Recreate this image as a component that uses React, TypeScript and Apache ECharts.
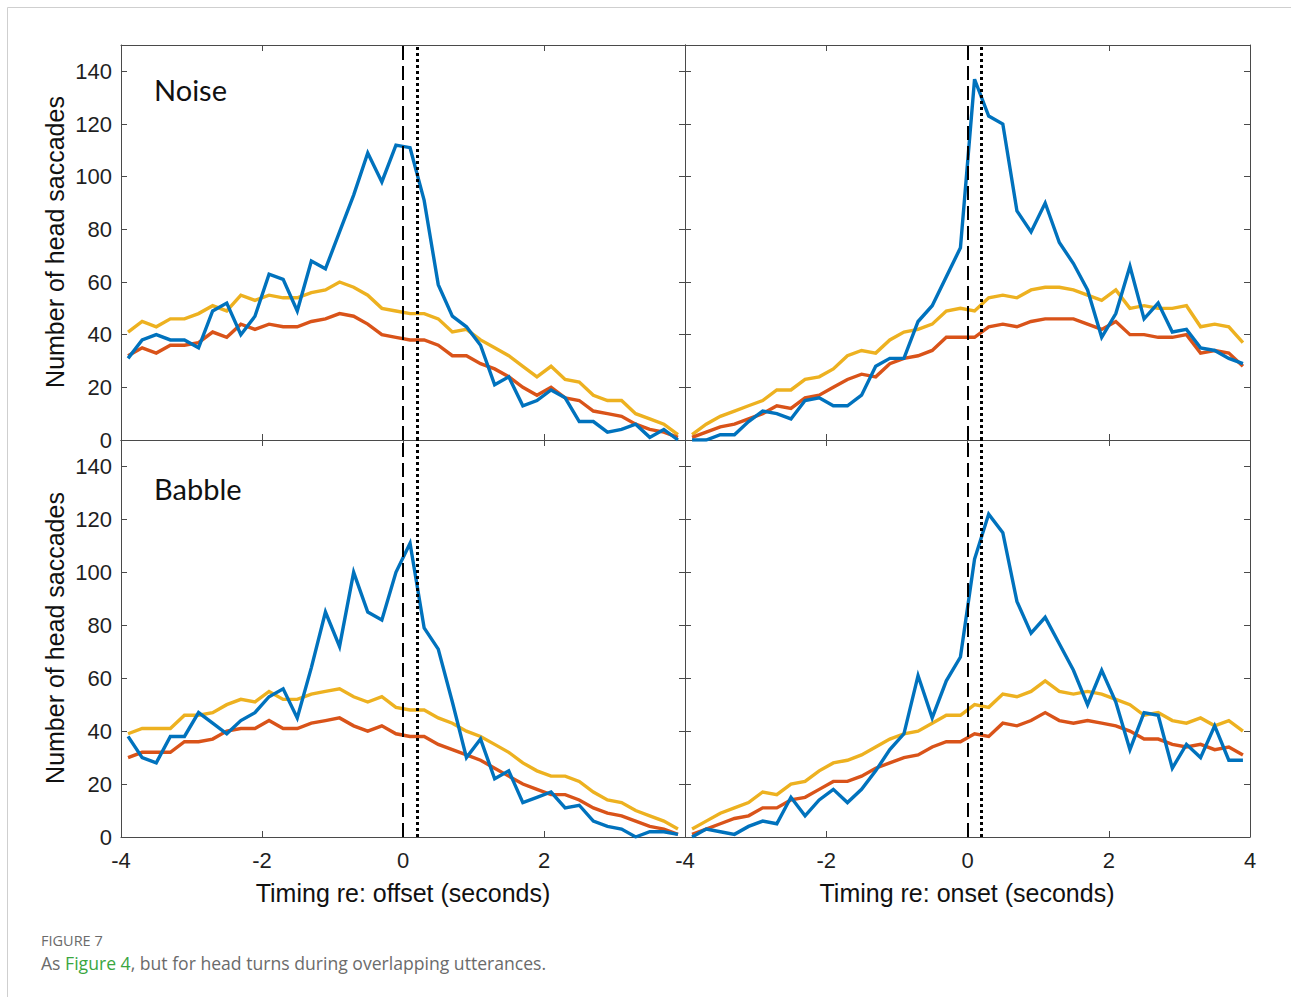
import React, { useEffect, useRef } from "react";
import * as echarts from "echarts";

// Bin centres (seconds)
const times = [-3.9, -3.7, -3.5, -3.3, -3.1, -2.9, -2.7, -2.5, -2.3, -2.1, -1.9, -1.7, -1.5, -1.3, -1.1, -0.9, -0.7, -0.5, -0.3, -0.1, 0.1, 0.3, 0.5, 0.7, 0.9, 1.1, 1.3, 1.5, 1.7, 1.9, 2.1, 2.3, 2.5, 2.7, 2.9, 3.1, 3.3, 3.5, 3.7, 3.9];

const xTicks = [-4, -2, 0, 2, 4];
const yTicks = [0, 20, 40, 60, 80, 100, 120, 140];

const noiseOffsetBlue = [31, 38, 40, 38, 38, 35, 49, 52, 40, 47, 63, 61, 49, 68, 65, 79, 93, 109, 98, 112, 111, 91, 59, 47, 43, 36, 21, 24, 13, 15, 19, 16, 7, 7, 3, 4, 6, 1, 4, 0];
const noiseOffsetYellow = [41, 45, 43, 46, 46, 48, 51, 49, 55, 53, 55, 54, 54, 56, 57, 60, 58, 55, 50, 49, 48, 48, 46, 41, 42, 38, 35, 32, 28, 24, 28, 23, 22, 17, 15, 15, 10, 8, 6, 2];
const noiseOffsetRed = [32, 35, 33, 36, 36, 37, 41, 39, 44, 42, 44, 43, 43, 45, 46, 48, 47, 44, 40, 39, 38, 38, 36, 32, 32, 29, 27, 24, 20, 17, 20, 16, 15, 11, 10, 9, 6, 4, 3, 1];

const noiseOnsetBlue = [0, 0, 2, 2, 7, 11, 10, 8, 15, 16, 13, 13, 17, 28, 31, 31, 45, 51, 62, 73, 137, 123, 120, 87, 79, 90, 75, 67, 57, 39, 48, 66, 46, 52, 41, 42, 35, 34, 31, 29];
const noiseOnsetYellow = [2, 6, 9, 11, 13, 15, 19, 19, 23, 24, 27, 32, 34, 33, 38, 41, 42, 44, 49, 50, 49, 54, 55, 54, 57, 58, 58, 57, 55, 53, 57, 50, 51, 50, 50, 51, 43, 44, 43, 37];
const noiseOnsetRed = [1, 3, 5, 6, 8, 10, 13, 12, 16, 17, 20, 23, 25, 24, 29, 31, 32, 34, 39, 39, 39, 43, 44, 43, 45, 46, 46, 46, 44, 42, 45, 40, 40, 39, 39, 40, 33, 34, 33, 28];

const babbleOffsetBlue = [38, 30, 28, 38, 38, 47, 43, 39, 44, 47, 53, 56, 45, 64, 85, 72, 100, 85, 82, 100, 111, 79, 71, 51, 30, 37, 22, 25, 13, 15, 17, 11, 12, 6, 4, 3, 0, 2, 2, 1];
const babbleOffsetYellow = [39, 41, 41, 41, 46, 46, 47, 50, 52, 51, 55, 52, 52, 54, 55, 56, 53, 51, 53, 49, 48, 48, 45, 43, 40, 38, 35, 32, 28, 25, 23, 23, 21, 17, 14, 13, 10, 8, 6, 3];
const babbleOffsetRed = [30, 32, 32, 32, 36, 36, 37, 40, 41, 41, 44, 41, 41, 43, 44, 45, 42, 40, 42, 39, 38, 38, 35, 33, 31, 29, 26, 23, 20, 18, 16, 16, 14, 11, 9, 8, 6, 4, 3, 1];

const babbleOnsetBlue = [0, 3, 2, 1, 4, 6, 5, 15, 8, 14, 18, 13, 18, 25, 33, 39, 61, 45, 59, 68, 105, 122, 115, 89, 77, 83, 73, 63, 50, 63, 51, 33, 47, 46, 26, 35, 30, 42, 29, 29];
const babbleOnsetYellow = [3, 6, 9, 11, 13, 17, 16, 20, 21, 25, 28, 29, 31, 34, 37, 39, 40, 43, 46, 46, 50, 49, 54, 53, 55, 59, 55, 54, 55, 54, 52, 50, 46, 47, 44, 43, 45, 42, 44, 40];
const babbleOnsetRed = [1, 3, 5, 7, 8, 11, 11, 14, 15, 18, 21, 21, 23, 26, 28, 30, 31, 34, 36, 36, 39, 38, 43, 42, 44, 47, 44, 43, 44, 43, 42, 40, 37, 37, 35, 34, 35, 33, 34, 31];

const panelLabels = ["Noise", "", "Babble", ""];
const xTitles = ["Timing re: offset (seconds)", "Timing re: onset (seconds)"];
const yTitle = "Number of head saccades";
const markerLines = [0, 0.2];

const panels = [
  { blue: noiseOffsetBlue, red: noiseOffsetRed, yellow: noiseOffsetYellow },
  { blue: noiseOnsetBlue, red: noiseOnsetRed, yellow: noiseOnsetYellow },
  { blue: babbleOffsetBlue, red: babbleOffsetRed, yellow: babbleOffsetYellow },
  { blue: babbleOnsetBlue, red: babbleOnsetRed, yellow: babbleOnsetYellow },
];

const BLUE = "#0072BD";
const RED = "#D95319";
const YELLOW = "#EDB120";
const AXIS = "#4a4a4a";
const LABEL = "#1f1f1f";
const FONT = "'Liberation Sans', Arial, sans-serif";
const CAPFONT = "'Open Sans', 'Noto Sans', sans-serif";

const gridBoxes = [
  { left: 121, top: 45, width: 564, height: 395 },
  { left: 685, top: 45, width: 565, height: 395 },
  { left: 121, top: 440, width: 564, height: 397 },
  { left: 685, top: 440, width: 565, height: 397 },
];

export default function App() {
  const ref = useRef<HTMLDivElement>(null);

  useEffect(() => {
    if (!ref.current) return;
    const chart = echarts.init(ref.current, undefined, { renderer: "svg" });

    const xAxes: any[] = [];
    const yAxes: any[] = [];
    const series: any[] = [];

    gridBoxes.forEach((_, g) => {
      const isBottom = g >= 2;
      const isLeft = g % 2 === 0;
      const common = {
        gridIndex: g,
        type: "value",
        splitLine: { show: false },
        axisLine: { show: true, onZero: false, lineStyle: { color: AXIS, width: 1 } },
        axisTick: { show: true, inside: true, length: 6, lineStyle: { color: AXIS, width: 1 } },
      };
      xAxes.push({
        ...common,
        position: "bottom",
        min: xTicks[0],
        max: xTicks[xTicks.length - 1],
        interval: 2,
        axisLabel: {
          show: isBottom,
          fontSize: 22,
          fontFamily: FONT,
          color: LABEL,
          margin: 12,
          showMaxLabel: !isLeft,
          showMinLabel: true,
        },
      });
      xAxes.push({
        ...common,
        position: "top",
        min: xTicks[0],
        max: xTicks[xTicks.length - 1],
        interval: 2,
        axisLabel: { show: false },
      });
      yAxes.push({
        ...common,
        position: "left",
        min: yTicks[0],
        max: 150,
        interval: 20,
        axisLabel: {
          show: isLeft,
          fontSize: 22,
          fontFamily: FONT,
          color: LABEL,
          margin: 9,
          formatter: (v: number) => (yTicks.includes(v) ? String(v) : ""),
        },
      });
      yAxes.push({
        ...common,
        position: "right",
        min: yTicks[0],
        max: 150,
        interval: 20,
        axisLabel: { show: false },
      });

      const p = panels[g];
      const mk = (vals: number[], color: string, withMarks: boolean, z: number) => ({
        type: "line",
        xAxisIndex: 2 * g,
        yAxisIndex: 2 * g,
        data: vals.map((v, i) => [times[i], v]),
        showSymbol: false,
        symbol: "none",
        z,
        lineStyle: { color, width: 3.4, join: "miter" },
        itemStyle: { color },
        silent: true,
        markLine: withMarks
          ? {
              silent: true,
              symbol: ["none", "none"],
              label: { show: false },
              animation: false,
              data: [
                { xAxis: markerLines[0], lineStyle: { color: "#000", width: 2, type: [14, 6] } },
                { xAxis: markerLines[1], lineStyle: { color: "#000", width: 3, type: [3, 3] } },
              ],
            }
          : undefined,
      });
      series.push(mk(p.yellow, YELLOW, false, 2));
      series.push(mk(p.red, RED, false, 3));
      series.push(mk(p.blue, BLUE, true, 4));
    });

    const graphics: any[] = [
      {
        type: "rect",
        shape: { x: 7.5, y: 7.5, width: 1400, height: 1100 },
        style: { fill: "none", stroke: "#cfcfcf", lineWidth: 1 },
        silent: true,
      },
      {
        type: "text",
        x: 55,
        y: 242,
        rotation: Math.PI / 2,
        style: { text: yTitle, fontSize: 25, fontFamily: FONT, fill: "#111", align: "center", verticalAlign: "middle" },
      },
      {
        type: "text",
        x: 55,
        y: 638,
        rotation: Math.PI / 2,
        style: { text: yTitle, fontSize: 25, fontFamily: FONT, fill: "#111", align: "center", verticalAlign: "middle" },
      },
      {
        type: "text",
        x: 403,
        y: 893,
        style: { text: xTitles[0], fontSize: 25, fontFamily: FONT, fill: "#111", align: "center", verticalAlign: "middle" },
      },
      {
        type: "text",
        x: 967,
        y: 893,
        style: { text: xTitles[1], fontSize: 25, fontFamily: FONT, fill: "#111", align: "center", verticalAlign: "middle" },
      },
      {
        type: "text",
        x: 154,
        y: 89,
        style: { text: panelLabels[0], fontSize: 29, fontFamily: "Lato, 'Noto Sans', sans-serif", fill: "#111", align: "left", verticalAlign: "middle" },
      },
      {
        type: "text",
        x: 154,
        y: 488,
        style: { text: panelLabels[2], fontSize: 29, fontFamily: "Lato, 'Noto Sans', sans-serif", fill: "#111", align: "left", verticalAlign: "middle" },
      },
      {
        type: "text",
        x: 41,
        y: 940,
        style: { text: "FIGURE 7", fontSize: 14.5, fontFamily: CAPFONT, fill: "#6b6b6b", align: "left", verticalAlign: "middle" },
      },
      {
        type: "text",
        x: 41,
        y: 963,
        style: {
          text: "{a|As }{g|Figure 4}{a|, but for head turns during overlapping utterances.}",
          align: "left",
          verticalAlign: "middle",
          rich: {
            a: { fontSize: 17.6, fontFamily: CAPFONT, fill: "#6b6b6b", color: "#6b6b6b" },
            g: { fontSize: 17.6, fontFamily: CAPFONT, fill: "#3aa63f", color: "#3aa63f" },
          },
        },
      },
    ];

    chart.setOption({
      animation: false,
      backgroundColor: "#ffffff",
      grid: gridBoxes.map((b) => ({ ...b, containLabel: false })),
      xAxis: xAxes,
      yAxis: yAxes,
      series,
      graphic: graphics,
    });

    return () => chart.dispose();
  }, []);

  return (
    <div
      ref={ref}
      style={{ position: "fixed", left: 0, top: 0, width: 1291, height: 997, background: "#fff" }}
    />
  );
}
